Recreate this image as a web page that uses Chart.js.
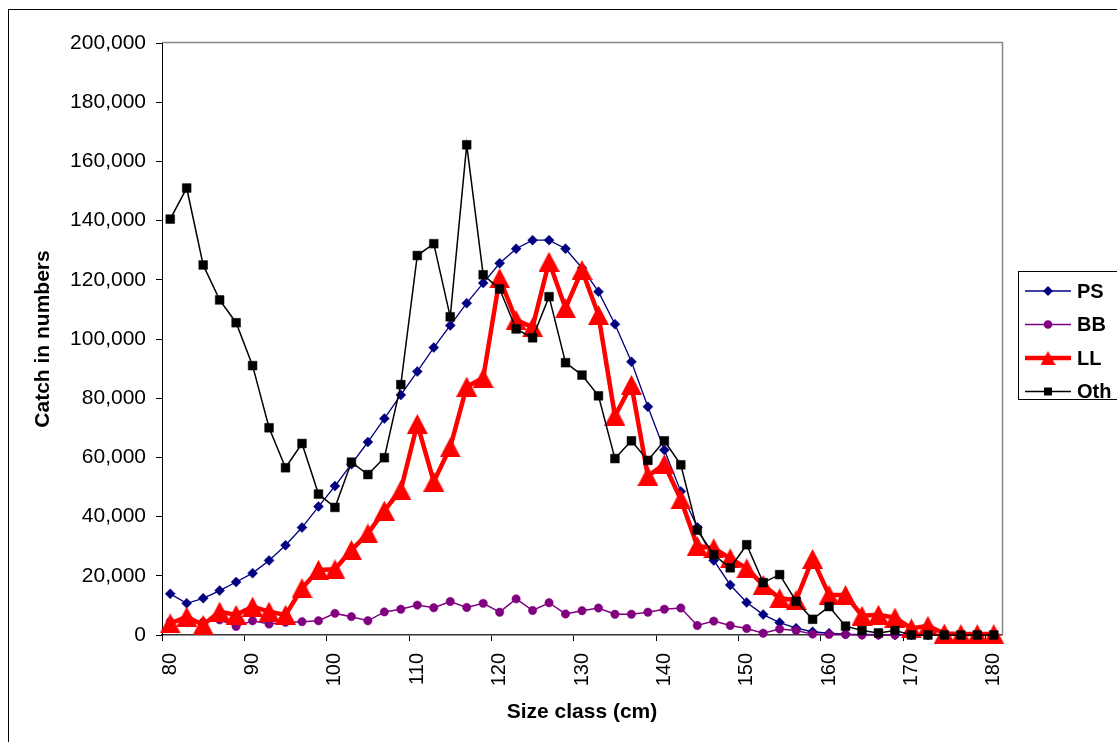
<!DOCTYPE html>
<html>
<head>
<meta charset="utf-8">
<script src="https://cdn.jsdelivr.net/npm/chart.js@4.4.0/dist/chart.umd.min.js"></script>
<style>
  html, body { margin: 0; padding: 0; background: #fff; }
  #wrap { position: relative; width: 1117px; height: 742px; }
</style>
</head>
<body>
<div id="wrap"><canvas id="chart" width="1117" height="742"></canvas></div>
<script>
// size classes (cm)
var sizeClasses = [80, 82, 84, 86, 88, 90, 92, 94, 96, 98, 100, 102, 104, 106, 108, 110, 112, 114, 116, 118,
    120, 122, 124, 126, 128, 130, 132, 134, 136, 138, 140, 142, 144, 146, 148, 150, 152, 154, 156, 158,
    160, 162, 164, 166, 168, 170, 172, 174, 176, 178, 180];

var PS = [13900, 10700, 12400, 15000, 17900, 20900, 25200, 30300, 36300, 43400, 50300, 57700, 65200, 73100, 81100, 89000,
    97100, 104600, 112100, 118900, 125600, 130500, 133400, 133400, 130500, 124000, 116000, 105000, 92300, 77100,
    62500, 48500, 36400, 25200, 16900, 11000, 6900, 4200, 2300, 1100, 600, 300, 200, 100, 0, 0, 0, 0, 0, 0, 0];

var BB = [4500, 5000, 4300, 5100, 2900, 4800, 3700, 4300, 4500, 4800, 7300, 6200, 4800, 7800, 8700, 10100,
    9200, 11300, 9300, 10700, 7700, 12200, 8300, 10900, 7100, 8200, 9100, 7000, 7000, 7700,
    8700, 9100, 3200, 4700, 3200, 2200, 600, 2000, 1500, 300, 200, 200, 0, 0, 0, 0, 0, 0, 0, 0, 0];

var LL = [3900, 6200, 3400, 7900, 6800, 9600, 7900, 6800, 15800, 22000, 22200, 28700, 34300, 42000, 49000, 71300,
    51800, 63400, 83900, 86800, 120500, 106400, 104000, 126100, 110400, 123300, 108100, 74000, 84500, 53700,
    57700, 45800, 30100, 29300, 25900, 22500, 16900, 12400, 11800, 25700, 13500, 13500, 6500, 6800, 5900,
    2200, 3100, 500, 300, 300, 300];

var Oth = [140500, 151000, 125000, 113200, 105500, 91000, 70000, 56500, 64700, 47600, 43100, 58400, 54200, 59900, 84600, 128200,
    132200, 107500, 165600, 121700, 116900, 103400, 100400, 114300, 92000, 87800, 80800, 59600, 65600, 59000,
    65600, 57500, 35400, 27100, 22700, 30500, 17700, 20400, 11400, 5300, 9600, 3000, 1500, 700, 1500,
    0, 0, 0, 0, 0, 0];

var seriesNames = ['PS', 'BB', 'LL', 'Oth'];
var yTicksMax = 200000;
var yTicksStep = 20000;

var FONT = "'Liberation Sans', Arial, sans-serif";
Chart.defaults.font.family = FONT;
Chart.defaults.color = '#000';

// Excel style triangle (centred on its box)
function triangleImg(w, h, color) {
    var c = document.createElement('canvas');
    c.width = w;
    c.height = h;
    var g = c.getContext('2d');
    g.fillStyle = color;
    g.beginPath();
    g.moveTo(w / 2, 0);
    g.lineTo(w, h);
    g.lineTo(0, h);
    g.closePath();
    g.fill();
    return c;
}
var bigTri = triangleImg(21, 20, '#ff0000');
var smallTri = triangleImg(15, 14, '#ff0000');

var frame = {
    id: 'frame',
    beforeDraw: function (chart) {
        var ctx = chart.ctx;
        ctx.save();
        ctx.fillStyle = '#fff';
        ctx.fillRect(0, 0, chart.width, chart.height);
        ctx.strokeStyle = '#000';
        ctx.lineWidth = 1;
        ctx.strokeRect(8.5, 9.5, 2000, 2000);
        ctx.restore();
    },
    beforeDatasetsDraw: function (chart) {
        var a = chart.chartArea;
        var ctx = chart.ctx;
        ctx.save();
        ctx.strokeStyle = '#888';
        ctx.lineWidth = 1.5;
        ctx.beginPath();
        ctx.moveTo(a.left, a.top - 0.5);
        ctx.lineTo(a.right + 0.5, a.top - 0.5);
        ctx.lineTo(a.right + 0.5, a.bottom);
        ctx.stroke();
        ctx.restore();
    }
};

var excelLegend = {
    id: 'excelLegend',
    afterDraw: function (chart) {
        var ctx = chart.ctx;
        ctx.save();
        ctx.strokeStyle = '#000';
        ctx.lineWidth = 1;
        ctx.strokeRect(1018.5, 271.5, 200, 128);
        var ys = [291, 324.5, 358, 391.5];
        chart.data.datasets.forEach(function (ds, i) {
            var y = ys[i];
            ctx.strokeStyle = ds.borderColor;
            ctx.lineWidth = ds.borderWidth;
            ctx.beginPath();
            ctx.moveTo(1025, y);
            ctx.lineTo(1071, y);
            ctx.stroke();
            ctx.fillStyle = ds.pointBackgroundColor;
            ctx.beginPath();
            if (ds.label === 'PS') {
                ctx.moveTo(1048, y - 5); ctx.lineTo(1053, y); ctx.lineTo(1048, y + 5); ctx.lineTo(1043, y);
                ctx.closePath(); ctx.fill();
            } else if (ds.label === 'BB') {
                ctx.arc(1048, y, 4.3, 0, Math.PI * 2); ctx.fill();
            } else if (ds.label === 'LL') {
                ctx.drawImage(smallTri, 1048 - 7.5, y - 7);
            } else {
                ctx.fillRect(1044, y - 4, 8, 8);
            }
            ctx.fillStyle = '#000';
            ctx.font = 'bold 20px ' + FONT;
            ctx.textBaseline = 'middle';
            ctx.textAlign = 'left';
            ctx.fillText(ds.label, 1077, y + 1);
        });
        ctx.restore();
    }
};

new Chart('chart', {
    type: 'line',
    data: {
        labels: sizeClasses,
        datasets: [
            {
                label: seriesNames[0], data: PS, order: 3,
                borderColor: '#000080', borderWidth: 1.3,
                pointStyle: 'rectRot', pointRadius: 5, pointBorderWidth: 0.5,
                pointBackgroundColor: '#000080', pointBorderColor: '#000080',
                tension: 0, clip: false
            },
            {
                label: seriesNames[1], data: BB, order: 2,
                borderColor: '#800080', borderWidth: 1.5,
                pointStyle: 'circle', pointRadius: 4.2, pointBorderWidth: 0.5,
                pointBackgroundColor: '#800080', pointBorderColor: '#800080',
                tension: 0, clip: false
            },
            {
                label: seriesNames[2], data: LL, order: 1,
                borderColor: '#ff0000', borderWidth: 4.5,
                pointStyle: bigTri, pointRadius: 10,
                pointBackgroundColor: '#ff0000', pointBorderColor: '#ff0000',
                tension: 0, clip: false
            },
            {
                label: seriesNames[3], data: Oth, order: 0,
                borderColor: '#000000', borderWidth: 1.5,
                pointStyle: 'rect', pointRadius: 6.2, pointBorderWidth: 0.5,
                pointBackgroundColor: '#000000', pointBorderColor: '#000000',
                tension: 0, clip: false
            }
        ]
    },
    options: {
        responsive: false,
        animation: false,
        events: [],
        layout: { padding: { left: 0, top: 43, right: 115, bottom: 0 } },
        plugins: {
            legend: { display: false },
            tooltip: { enabled: false }
        },
        scales: {
            x: {
                type: 'category',
                offset: true,
                grid: {
                    drawOnChartArea: false,
                    offset: true,
                    tickLength: 6,
                    lineWidth: 1,
                    color: function (c) { return c.index % 5 === 0 ? '#000' : 'rgba(0,0,0,0)'; }
                },
                border: { color: '#333', width: 1.5 },
                ticks: {
                    autoSkip: false,
                    maxRotation: 90,
                    minRotation: 90,
                    padding: 12,
                    font: { size: 20 },
                    callback: function (v) {
                        var l = this.getLabelForValue(v);
                        return (l % 10 === 0) ? String(l) : '';
                    }
                },
                title: {
                    display: true,
                    text: 'Size class (cm)',
                    font: { size: 21, weight: 'bold' },
                    padding: { top: 0, bottom: 17 }
                },
                afterFit: function (s) { s.height = 107; }
            },
            y: {
                min: 0,
                max: yTicksMax,
                grid: { drawOnChartArea: false, tickLength: 6, color: '#000' },
                border: { color: '#000', width: 1 },
                ticks: {
                    stepSize: yTicksStep,
                    padding: 10,
                    font: { size: 21 },
                    callback: function (v) { return v.toLocaleString('en-US'); }
                },
                title: {
                    display: true,
                    text: 'Catch in numbers',
                    font: { size: 21, weight: 'bold' },
                    padding: { top: 31, bottom: 0 }
                },
                afterFit: function (s) { s.width = 162; }
            }
        }
    },
    plugins: [frame, excelLegend]
});
</script>
</body>
</html>
